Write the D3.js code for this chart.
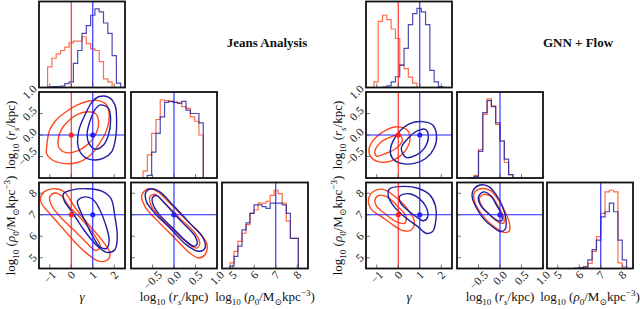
<!DOCTYPE html>
<html>
<head>
<meta charset="utf-8">
<script src="https://cdn.jsdelivr.net/npm/d3@7"></script>
<style>
  body { margin: 0; background: #fff; }
  svg { display: block; }
  text { font-family: "Liberation Serif", "DejaVu Serif", serif; fill: #111; }
</style>
</head>
<body>
<svg width="640" height="309"></svg>
<script>
// parameter ranges and ticks
var gammaDomain = [-1.5, 2.5], rsDomain = [-1, 1], rhoDomain = [4.5, 8.5];
var gammaTicks = [-1, 0, 1, 2], rsTicks = [-0.5, 0, 0.5, 1], rhoTicks = [5, 6, 7, 8];
// true values (gamma, log rs, log rho0)
var truthRed = [0, 0, 7], truthBlue = [1, 0, 7];

// 1D histograms, heights as fraction of the panel
var jeansGammaEdges = [-1.1, -0.9, -0.7, -0.5, -0.3, -0.1, 0.1, 0.3, 0.5, 0.7, 0.9, 1.1, 1.3, 1.5, 1.7, 1.9, 2.1, 2.3];
var jeansGammaOrange = [0.24, 0.34, 0.39, 0.43, 0.47, 0.52, 0.54, 0.54, 0.59, 0.51, 0.45, 0.43, 0.30, 0.10, 0.066, 0, 0];
var jeansGammaBlue = [0.005, 0.01, 0.01, 0.015, 0.046, 0.066, 0.28, 0.43, 0.63, 0.72, 0.84, 0.915, 0.88, 0.75, 0.63, 0.37, 0.05];
var jeansRsEdges = [-0.72, -0.62, -0.52, -0.42, -0.32, -0.22, -0.12, -0.02, 0.08, 0.18, 0.28, 0.38, 0.48, 0.58, 0.68];
var jeansRsOrange = [0.08, 0.27, 0.52, 0.68, 0.91, 0.90, 0.89, 0.88, 0.87, 0.83, 0.81, 0.71, 0.66, 0.50];
var jeansRsBlue = [0, 0.03, 0.30, 0.52, 0.71, 0.88, 0.89, 0.88, 0.87, 0.89, 0.79, 0.75, 0.75, 0.64];
var jeansRhoEdges = [4.87, 5.06, 5.24, 5.43, 5.62, 5.80, 5.99, 6.18, 6.37, 6.55, 6.74, 6.93, 7.11, 7.30, 7.49, 7.68, 7.86, 8.05];
var jeansRhoOrange = [0.065, 0.2, 0.315, 0.41, 0.51, 0.64, 0.68, 0.76, 0.76, 0.78, 0.85, 0.91, 0.87, 0.76, 0.55, 0.35, 0.35];
var jeansRhoBlue = [0.027, 0.14, 0.26, 0.45, 0.53, 0.64, 0.74, 0.74, 0.72, 0.70, 0.76, 0.76, 0.76, 0.74, 0.64, 0.35, 0.35];

var gnnGammaEdges = [-1.13, -0.93, -0.73, -0.53, -0.33, -0.13, 0.07, 0.27, 0.47, 0.67, 0.87, 1.07, 1.27, 1.47, 1.67, 1.87, 2.07];
var gnnGammaOrange = [0.066, 0.77, 0.84, 0.79, 0.68, 0.57, 0.26, 0.22, 0.12, 0.05, 0, 0, 0, 0, 0, 0];
var gnnGammaBlue = [0, 0, 0.005, 0.02, 0.066, 0.125, 0.26, 0.455, 0.73, 0.86, 0.92, 0.88, 0.73, 0.2, 0.066, 0.01];
var gnnRsEdges = [-0.7, -0.6, -0.5, -0.4, -0.3, -0.2, -0.1, 0, 0.1, 0.2, 0.3];
var gnnRsOrange = [0, 0.03, 0.33, 0.74, 0.92, 0.84, 0.62, 0.43, 0.18, 0.04];
var gnnRsBlue = [0.005, 0.02, 0.31, 0.76, 0.90, 0.83, 0.64, 0.43, 0.22, 0.04];
var gnnRhoEdges = [5.8, 6.0, 6.2, 6.4, 6.6, 6.8, 7.0, 7.2, 7.4, 7.6, 7.8, 8.0, 8.2];
var gnnRhoOrange = [0, 0.005, 0.02, 0.06, 0.2, 0.37, 0.64, 0.89, 0.91, 0.89, 0.065, 0.02];
var gnnRhoBlue = [0.005, 0.01, 0.02, 0.1, 0.22, 0.33, 0.6, 0.66, 0.76, 0.66, 0.33, 0.1];

// 2D contours [outer, inner], points in data units
var jeansGammaRsOrange = [
  [[-1.15, -0.31], [-1.0, 0.12], [-0.70, 0.35], [-0.24, 0.54], [0.29, 0.70], [0.82, 0.79], [1.27, 0.80], [1.61, 0.72], [1.76, 0.50], [1.65, 0.12], [1.27, -0.23], [0.82, -0.50], [0.29, -0.64], [-0.39, -0.66], [-0.92, -0.57], [-1.15, -0.43]],
  [[-0.62, -0.16], [-0.47, 0.12], [-0.17, 0.31], [0.29, 0.48], [0.74, 0.54], [1.12, 0.50], [1.27, 0.31], [1.12, 0.0], [0.74, -0.23], [0.29, -0.37], [-0.24, -0.41], [-0.55, -0.31]]
];
var jeansGammaRsBlue = [
  [[1.27, 0.89], [1.73, 0.88], [2.03, 0.70], [2.11, 0.35], [2.06, -0.08], [1.88, -0.39], [1.50, -0.54], [1.05, -0.58], [0.59, -0.50], [0.32, -0.27], [0.36, 0.12], [0.67, 0.50], [0.97, 0.77]],
  [[1.35, 0.70], [1.73, 0.62], [1.83, 0.35], [1.73, 0.0], [1.50, -0.23], [1.12, -0.33], [0.82, -0.19], [0.74, 0.04], [0.89, 0.35], [1.12, 0.60]]
];
var jeansGammaRhoOrange = [
  [[-1.42, 7.86], [-1.15, 8.13], [-0.70, 8.21], [-0.32, 8.06], [0.21, 7.29], [0.82, 6.52], [1.42, 5.83], [1.80, 5.22], [1.70, 4.91], [1.27, 4.84], [0.74, 5.19], [0.14, 5.76], [-0.47, 6.45], [-1.0, 7.06], [-1.38, 7.52]],
  [[-1.0, 7.83], [-0.77, 8.01], [-0.47, 7.9], [-0.09, 7.37], [0.52, 6.75], [1.12, 5.99], [1.35, 5.53], [1.15, 5.34], [0.70, 5.71], [0.09, 6.32], [-0.52, 6.91], [-0.92, 7.44]]
];
var jeansGammaRhoBlue = [
  [[-0.36, 7.98], [0.06, 8.16], [0.74, 8.21], [1.42, 8.10], [1.85, 7.75], [2.03, 6.91], [2.14, 5.99], [2.03, 5.37], [1.65, 5.25], [1.20, 5.56], [0.59, 6.29], [0.03, 7.14], [-0.32, 7.64]],
  [[0.29, 7.64], [0.64, 7.83], [1.0, 7.72], [1.30, 7.29], [1.58, 6.60], [1.76, 5.83], [1.65, 5.44], [1.35, 5.5], [1.0, 5.99], [0.70, 6.6], [0.44, 7.14]]
];
var jeansRsRhoOrange = [
  [[-0.75, 7.9], [-0.60, 8.21], [-0.40, 8.10], [-0.09, 7.52], [0.29, 6.75], [0.64, 6.06], [0.77, 5.6], [0.72, 5.14], [0.57, 4.99], [0.37, 5.22], [-0.02, 5.99], [-0.40, 6.75], [-0.67, 7.37]],
  [[-0.56, 7.83], [-0.44, 7.95], [-0.25, 7.6], [0.14, 6.83], [0.49, 6.14], [0.60, 5.68], [0.53, 5.45], [0.37, 5.6], [0.02, 6.22], [-0.33, 6.91], [-0.52, 7.37]]
];
var jeansRsRhoBlue = [
  [[-0.65, 8.06], [-0.52, 8.21], [-0.33, 8.06], [-0.02, 7.44], [0.37, 6.6], [0.68, 5.91], [0.72, 5.45], [0.57, 5.3], [0.29, 5.6], [-0.09, 6.37], [-0.44, 7.06], [-0.64, 7.6]],
  [[-0.50, 7.80], [-0.40, 7.89], [-0.21, 7.52], [0.14, 6.75], [0.47, 6.06], [0.54, 5.65], [0.47, 5.53], [0.29, 5.76], [-0.02, 6.37], [-0.33, 6.98], [-0.48, 7.44]]
];

var gnnGammaRsOrange = [
  [[-1.35, -0.31], [-1.09, -0.08], [-0.55, 0.12], [-0.01, 0.19], [0.40, 0.12], [0.55, -0.08], [0.29, -0.39], [-0.32, -0.6], [-0.93, -0.62], [-1.29, -0.50]],
  [[-1.09, -0.39], [-0.86, -0.19], [-0.37, -0.05], [0.06, 0.0], [0.19, -0.12], [-0.09, -0.31], [-0.63, -0.44], [-1.01, -0.49]]
];
var gnnGammaRsBlue = [
  [[-0.37, -0.35], [-0.01, 0.04], [0.52, 0.26], [1.14, 0.31], [1.60, 0.23], [1.78, 0.0], [1.67, -0.31], [1.29, -0.54], [0.75, -0.66], [0.14, -0.66], [-0.27, -0.54]],
  [[0.14, -0.31], [0.45, -0.08], [0.91, 0.10], [1.26, 0.13], [1.40, -0.04], [1.21, -0.31], [0.83, -0.47], [0.37, -0.52]]
];
var gnnGammaRhoOrange = [
  [[-1.39, 7.67], [-1.19, 8.06], [-0.70, 8.18], [0.06, 7.67], [0.52, 7.14], [0.75, 6.68], [0.60, 6.29], [0.22, 6.26], [-0.24, 6.52], [-0.78, 6.91], [-1.24, 7.24]],
  [[-1.09, 7.67], [-0.90, 7.9], [-0.52, 7.83], [-0.01, 7.37], [0.37, 6.91], [0.29, 6.6], [-0.09, 6.68], [-0.63, 7.06], [-1.01, 7.4]]
];
var gnnGammaRhoBlue = [
  [[-0.40, 8.21], [0.29, 8.32], [0.98, 8.21], [1.44, 7.95], [1.72, 7.44], [1.75, 6.75], [1.60, 6.22], [1.29, 6.14], [0.91, 6.45], [0.29, 6.91], [-0.24, 7.44], [-0.47, 7.9]],
  [[0.06, 7.86], [0.52, 7.98], [0.98, 7.75], [1.29, 7.37], [1.37, 6.91], [1.18, 6.72], [0.83, 6.91], [0.40, 7.24], [0.11, 7.55]]
];
var gnnRsRhoOrange = [
  [[-0.60, 8.01], [-0.45, 8.21], [-0.23, 8.13], [-0.04, 7.7], [0.12, 7.14], [0.22, 6.6], [0.22, 6.25], [0.12, 6.17], [-0.08, 6.37], [-0.31, 6.75], [-0.50, 7.24], [-0.60, 7.67]],
  [[-0.48, 7.75], [-0.37, 7.95], [-0.19, 7.83], [-0.04, 7.37], [0.08, 6.91], [0.09, 6.63], [-0.02, 6.63], [-0.23, 6.98], [-0.41, 7.37]]
];
var gnnRsRhoBlue = [
  [[-0.64, 8.06], [-0.50, 8.36], [-0.27, 8.32], [-0.08, 7.9], [0.06, 7.37], [0.14, 6.75], [0.12, 6.32], [0.0, 6.22], [-0.16, 6.42], [-0.39, 6.83], [-0.56, 7.37], [-0.64, 7.75]],
  [[-0.50, 7.83], [-0.39, 8.06], [-0.22, 7.9], [-0.08, 7.44], [0.04, 6.98], [0.04, 6.72], [-0.08, 6.75], [-0.27, 7.06], [-0.45, 7.44]]
];

// styling
var orangeCol = "#ff4a1c", blueCol = "#1e1e9e";
var redTruth = "#ff2020", blueTruth = "#2222ff";
var S = 86;
var domains = [gammaDomain, rsDomain, rhoDomain];
var ticks = [gammaTicks, rsTicks, rhoTicks];
var fmts = [d3.format("d"), d3.format(".1f"), d3.format("d")];
var tickSize = 11.5, labelSize = 13;

var svg = d3.select("svg");
var defs = svg.append("defs");

function tickText(k, v) {
  return fmts[k](v).replace("-", "\u2212");
}

// text with sub/superscripts
function rich(sel, parts, size) {
  var cur = 0;
  parts.forEach(function(p) {
    var ts = sel.append("tspan").text(p.t);
    var off = p.sub ? size * 0.32 : p.sup ? -size * 0.42 : 0;
    ts.attr("dy", off - cur);
    cur = off;
    if (p.sub || p.sup) ts.attr("font-size", size * 0.7);
    if (p.it) ts.attr("font-style", "italic");
  });
}

var axisLabels = [
  [{t: "\u03b3", it: true}],
  [{t: "log"}, {t: "10", sub: true}, {t: " ("}, {t: "r", it: true}, {t: "s", sub: true, it: true}, {t: "/kpc)"}],
  [{t: "log"}, {t: "10", sub: true}, {t: " ("}, {t: "\u03c1", it: true}, {t: "0", sub: true}, {t: "/M"}, {t: "\u2299", sub: true}, {t: "kpc"}, {t: "\u22123", sup: true}, {t: ")"}]
];

function stepPoints(edges, vals) {
  var pts = [[edges[0], 0]];
  vals.forEach(function(v, i) { pts.push([edges[i], v]); });
  pts.push([edges[edges.length - 1], 0]);
  return pts;
}

function drawCorner(cfg) {
  var xs = domains.map(function(d, k) {
    return d3.scaleLinear().domain(d).range([cfg.cols[k], cfg.cols[k] + S]);
  });
  var ys = domains.map(function(d, k) {
    return d3.scaleLinear().domain(d).range([cfg.rows[k] + S, cfg.rows[k]]);
  });

  for (var i = 0; i < 3; i++) {
    for (var j = 0; j <= i; j++) {
      var x0 = cfg.cols[j], y0 = cfg.rows[i];
      var id = cfg.id + "c" + i + j;
      defs.append("clipPath").attr("id", id)
        .append("rect").attr("x", x0).attr("y", y0).attr("width", S).attr("height", S);
      var g = svg.append("g");
      var inner = g.append("g").attr("clip-path", "url(#" + id + ")");
      var xs_ = xs[j];

      if (i === j) {
        var hy = d3.scaleLinear().domain([0, 1]).range([y0 + S, y0]);
        var step = d3.line().curve(d3.curveStepAfter)
          .x(function(d) { return xs_(d[0]); })
          .y(function(d) { return hy(d[1]); });
        var h = cfg.hists[i];
        inner.append("path").attr("d", step(stepPoints(h.edges, h.orange)))
          .attr("fill", "none").attr("stroke", orangeCol).attr("stroke-opacity", 0.8).attr("stroke-width", 1.2);
        inner.append("path").attr("d", step(stepPoints(h.edges, h.blue)))
          .attr("fill", "none").attr("stroke", blueCol).attr("stroke-opacity", 0.8).attr("stroke-width", 1.2);
        if (truthRed[j] !== truthBlue[j]) {
          inner.append("line").attr("x1", xs_(truthRed[j])).attr("x2", xs_(truthRed[j]))
            .attr("y1", y0).attr("y2", y0 + S).attr("stroke", redTruth).attr("stroke-width", 1.1);
        }
        inner.append("line").attr("x1", xs_(truthBlue[j])).attr("x2", xs_(truthBlue[j]))
          .attr("y1", y0).attr("y2", y0 + S).attr("stroke", blueTruth).attr("stroke-width", 1.1);
      } else {
        var ys_ = ys[i];
        var cl = d3.line().curve(d3.curveCatmullRomClosed.alpha(0.5))
          .x(function(d) { return xs_(d[0]); })
          .y(function(d) { return ys_(d[1]); });
        var pair = cfg.pairs[i + "" + j];
        pair.orange.forEach(function(c) {
          inner.append("path").attr("d", cl(c)).attr("fill", "none")
            .attr("stroke", orangeCol).attr("stroke-width", 1.4);
        });
        pair.blue.forEach(function(c) {
          inner.append("path").attr("d", cl(c)).attr("fill", "none")
            .attr("stroke", blueCol).attr("stroke-width", 1.4);
        });
        // truth lines
        if (truthRed[j] !== truthBlue[j]) {
          inner.append("line").attr("x1", xs_(truthRed[j])).attr("x2", xs_(truthRed[j]))
            .attr("y1", y0).attr("y2", y0 + S).attr("stroke", redTruth).attr("stroke-width", 1.1);
        }
        inner.append("line").attr("x1", xs_(truthBlue[j])).attr("x2", xs_(truthBlue[j]))
          .attr("y1", y0).attr("y2", y0 + S).attr("stroke", blueTruth).attr("stroke-width", 1.1);
        inner.append("line").attr("x1", x0).attr("x2", x0 + S)
          .attr("y1", ys_(truthBlue[i])).attr("y2", ys_(truthBlue[i])).attr("stroke", blueTruth).attr("stroke-width", 1.1);
        inner.append("circle").attr("cx", xs_(truthRed[j])).attr("cy", ys_(truthRed[i])).attr("r", 2.6).attr("fill", redTruth);
        inner.append("circle").attr("cx", xs_(truthBlue[j])).attr("cy", ys_(truthBlue[i])).attr("r", 2.6).attr("fill", blueTruth);
        // left ticks
        ticks[i].forEach(function(t) {
          g.append("line").attr("x1", x0).attr("x2", x0 + 4)
            .attr("y1", ys_(t)).attr("y2", ys_(t)).attr("stroke", "#555").attr("stroke-width", 0.8);
        });
      }
      // bottom ticks
      ticks[j].forEach(function(t) {
        g.append("line").attr("x1", xs_(t)).attr("x2", xs_(t))
          .attr("y1", y0 + S).attr("y2", y0 + S - 4).attr("stroke", "#555").attr("stroke-width", 0.8);
      });
      // frame
      g.append("rect").attr("x", x0).attr("y", y0).attr("width", S).attr("height", S)
        .attr("fill", "none").attr("stroke", "#111").attr("stroke-width", 1.8);

      // x tick labels on the bottom row
      if (i === 2) {
        ticks[j].forEach(function(t) {
          var tx = svg.append("text").attr("font-size", tickSize).attr("text-anchor", "middle")
            .attr("dominant-baseline", "central").text(tickText(j, t));
          var w = tx.node().getComputedTextLength();
          var off = (w + 8) / (2 * Math.SQRT2);
          tx.attr("transform", "translate(" + xs_(t) + "," + (y0 + S + 1.5 + off) + ") rotate(-45)");
        });
        var lab = svg.append("text").attr("font-size", labelSize).attr("text-anchor", "middle")
          .attr("x", x0 + S / 2).attr("y", 301);
        rich(lab, axisLabels[j], labelSize);
      }
      // y tick labels on the left column
      if (j === 0 && i > 0) {
        var ys2 = ys[i];
        ticks[i].forEach(function(t) {
          var ty = svg.append("text").attr("font-size", tickSize).attr("text-anchor", "middle")
            .attr("dominant-baseline", "central").text(tickText(i, t));
          var w = ty.node().getComputedTextLength();
          var off = (w + 8) / (2 * Math.SQRT2);
          ty.attr("transform", "translate(" + (x0 - 1.5 - off) + "," + ys2(t) + ") rotate(-45)");
        });
        var ylab = svg.append("text").attr("font-size", labelSize).attr("text-anchor", "middle")
          .attr("transform", "translate(" + (x0 - 24) + "," + (y0 + S / 2) + ") rotate(-90)");
        rich(ylab, axisLabels[i], labelSize);
      }
    }
  }

  svg.append("text").attr("x", cfg.titleX).attr("y", 47).attr("text-anchor", "middle")
    .attr("font-size", 13).attr("font-weight", "bold").text(cfg.title);
}

drawCorner({
  id: "jeans",
  cols: [39, 131, 222],
  rows: [1.5, 92, 182.5],
  title: "Jeans Analysis",
  titleX: 267,
  hists: [
    {edges: jeansGammaEdges, orange: jeansGammaOrange, blue: jeansGammaBlue},
    {edges: jeansRsEdges, orange: jeansRsOrange, blue: jeansRsBlue},
    {edges: jeansRhoEdges, orange: jeansRhoOrange, blue: jeansRhoBlue}
  ],
  pairs: {
    "10": {orange: jeansGammaRsOrange, blue: jeansGammaRsBlue},
    "20": {orange: jeansGammaRhoOrange, blue: jeansGammaRhoBlue},
    "21": {orange: jeansRsRhoOrange, blue: jeansRsRhoBlue}
  }
});

drawCorner({
  id: "gnn",
  cols: [366, 457, 547],
  rows: [1.5, 92, 182.5],
  title: "GNN + Flow",
  titleX: 578,
  hists: [
    {edges: gnnGammaEdges, orange: gnnGammaOrange, blue: gnnGammaBlue},
    {edges: gnnRsEdges, orange: gnnRsOrange, blue: gnnRsBlue},
    {edges: gnnRhoEdges, orange: gnnRhoOrange, blue: gnnRhoBlue}
  ],
  pairs: {
    "10": {orange: gnnGammaRsOrange, blue: gnnGammaRsBlue},
    "20": {orange: gnnGammaRhoOrange, blue: gnnGammaRhoBlue},
    "21": {orange: gnnRsRhoOrange, blue: gnnRsRhoBlue}
  }
});
</script>
</body>
</html>
